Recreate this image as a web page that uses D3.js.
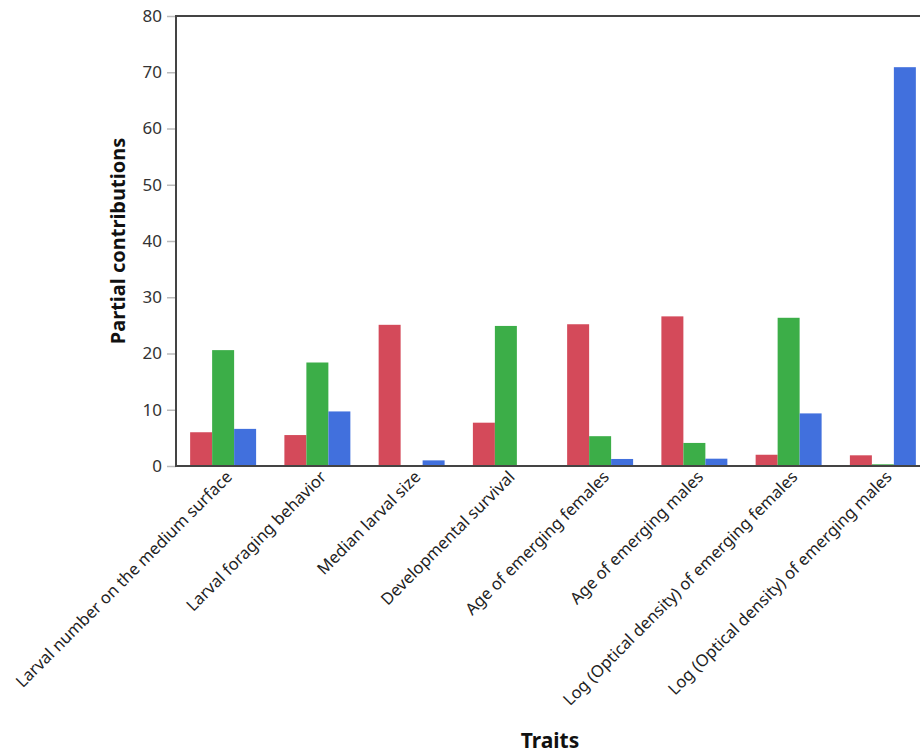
<!DOCTYPE html>
<html><head><meta charset="utf-8">
<script src="https://cdn.jsdelivr.net/npm/d3@7"></script>
<style>body{margin:0;background:#fff;}svg{display:block;}</style>
</head><body>
<svg id="c" width="920" height="753"></svg>
<script>
const categories = ["Larval number on the medium surface","Larval foraging behavior","Median larval size","Developmental survival","Age of emerging females","Age of emerging males","Log (Optical density) of emerging females","Log (Optical density) of emerging males"];
const seriesNames = ["A","B","C"];
const seriesA = [6.0, 5.5, 25.1, 7.7, 25.2, 26.6, 2.0, 1.9];
const seriesB = [20.6, 18.4, 0, 24.9, 5.3, 4.1, 26.35, 0.3];
const seriesC = [6.6, 9.7, 1.0, 0, 1.25, 1.3, 9.35, 70.9];
const yTicks = [0,10,20,30,40,50,60,70,80];
const colors = ["#d44a5a","#3cae48","#4170dd"];

(function(){
const svg = d3.select("#c");
const font = "'Segoe UI','Noto Sans','Open Sans',sans-serif";
const mLeft = 176, mTop = 16, mBottom = 466, mRight = 930;
const x = d3.scaleBand().domain(categories).range([mLeft, mRight]).paddingInner(0.3).paddingOuter(0.15);
const xs = d3.scaleBand().domain(seriesNames).range([0, x.bandwidth()]);
const y = d3.scaleLinear().domain([0,80]).range([mBottom, mTop]);
const series = [seriesA, seriesB, seriesC];

series.forEach((vals, si) => {
  svg.append("g").selectAll("rect").data(categories).join("rect")
    .attr("x", (c) => x(c) + xs(seriesNames[si]))
    .attr("width", xs.bandwidth())
    .attr("y", (c,i) => y(vals[i]))
    .attr("height", (c,i) => y(0) - y(vals[i]))
    .attr("fill", colors[si]);
});

const ya = svg.append("g").attr("transform", `translate(${mLeft},0)`)
  .call(d3.axisLeft(y).tickValues(yTicks).tickSize(9).tickPadding(5));
ya.select(".domain").remove();
ya.selectAll(".tick line").attr("stroke","#bbb").attr("stroke-width",1.5);
ya.selectAll(".tick text").attr("font-family",font).attr("font-size",17).attr("fill","#333");

svg.append("line").attr("x1",mLeft).attr("x2",mLeft).attr("y1",mTop).attr("y2",mBottom).attr("stroke","#444").attr("stroke-width",2);
svg.append("line").attr("x1",mLeft-1).attr("x2",920).attr("y1",mTop).attr("y2",mTop).attr("stroke","#444").attr("stroke-width",2);
svg.append("line").attr("x1",mLeft-1).attr("x2",920).attr("y1",mBottom).attr("y2",mBottom).attr("stroke","#444").attr("stroke-width",2);

svg.append("g").selectAll("text").data(categories).join("text")
  .attr("transform", c => `translate(${x(c) + x.bandwidth()/2 + 10},${mBottom + 12}) rotate(-45)`)
  .attr("text-anchor","end")
  .attr("font-family",font).attr("font-size",16.5).attr("fill","#222")
  .text(c => c);

svg.append("text").attr("transform",`translate(125,${(mTop+mBottom)/2}) rotate(-90)`)
  .attr("text-anchor","middle").attr("font-family",font).attr("font-weight","bold").attr("font-size",20).attr("fill","#111")
  .text("Partial contributions");
svg.append("text").attr("x",550).attr("y",748)
  .attr("text-anchor","middle").attr("font-family",font).attr("font-weight","bold").attr("font-size",21).attr("fill","#111")
  .text("Traits");
})();
</script>
</body></html>
